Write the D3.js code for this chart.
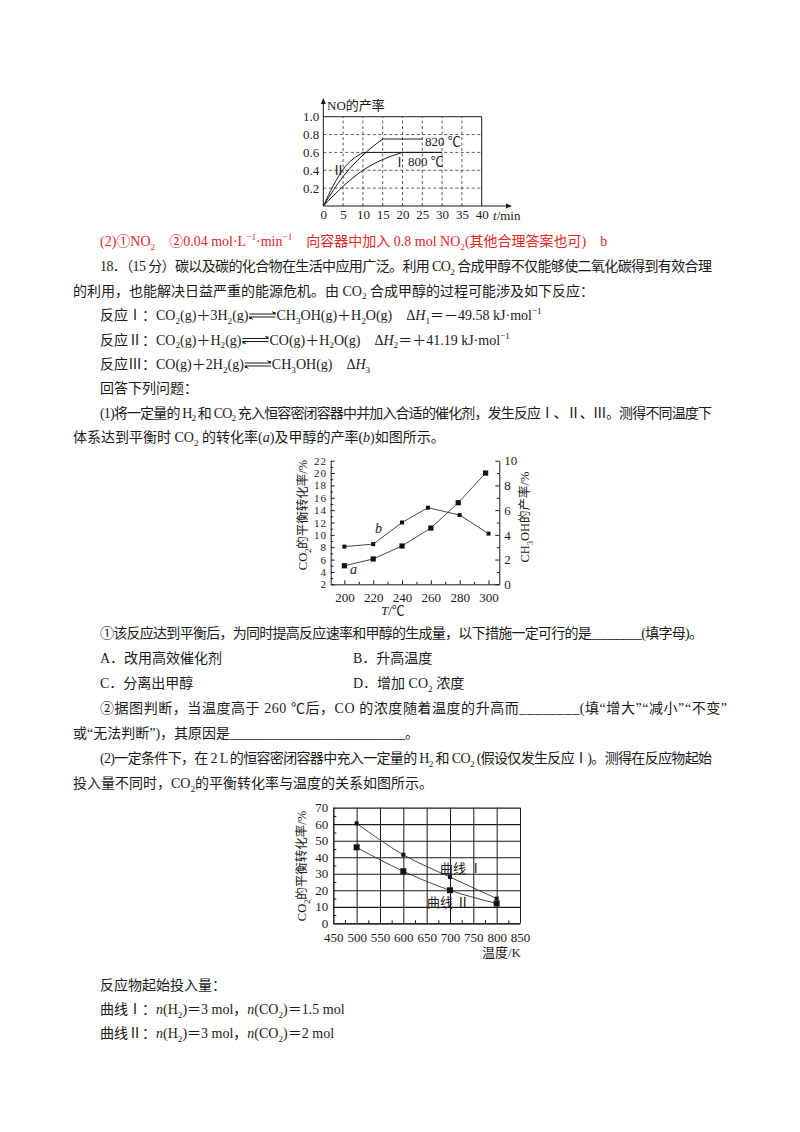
<!DOCTYPE html>
<html lang="zh">
<head>
<meta charset="UTF-8">
<title>CO2 合成甲醇</title>
<script src="https://d3js.org/d3.v7.min.js"></script>
<style>
  body { margin: 0; background: #fff; }
  svg { display: block; }
  text { font-family: "Liberation Serif", "Noto Sans CJK SC", serif; fill: #1a1a1a; }
  .axis path, .axis line { stroke: #1a1a1a; }
  .axis text { font-size: 13px; fill: #1a1a1a; font-family: "Liberation Serif", "Noto Sans CJK SC", serif; }
  .axis.dense text { font-size: 11px; letter-spacing: 0.8px; }
</style>
</head>
<body>
<svg width="800" height="1132"></svg>
<script>
// ---- chart 1: NO yield vs time
const noTicksY = [0.2, 0.4, 0.6, 0.8, 1.0];
const noTicksX = [0, 5, 10, 15, 20, 25, 30, 35, 40];
const t820 = [0, 5, 10, 15, 25];
const y820 = [0, 0.33, 0.57, 0.75, 0.75];
const tII = [0, 5, 10, 30];
const yII = [0, 0.41, 0.6, 0.6];
const tI = [0, 5, 10, 15, 20, 30];
const yI = [0, 0.22, 0.4, 0.52, 0.6, 0.6];

// ---- chart 2: CO2 conversion (a) and methanol yield (b) vs T
const tempTicks = [200, 220, 240, 260, 280, 300];
const tempMinor = [210, 230, 250, 270, 290];
const convTicks = [2, 4, 6, 8, 10, 12, 14, 16, 18, 20, 22];
const convMinor = [3, 5, 7, 9, 11, 13, 15, 17, 19, 21];
const yieldTicks = [0, 2, 4, 6, 8, 10];
const yieldMinor = [1, 3, 5, 7, 9];
const tempsA = [200, 220, 240, 260, 279, 298];
const convA = [5.0, 6.1, 8.2, 11.1, 15.2, 20.0];
const tempsB = [200, 220, 240, 258, 280, 300];
const yieldB = [3.05, 3.25, 5.0, 6.2, 5.6, 4.1];

// ---- chart 3: CO2 equilibrium conversion vs temperature (K)
const kTicks = [450, 500, 550, 600, 650, 700, 750, 800, 850];
const kMinor = [475, 525, 575, 625, 675, 725, 775, 825];
const pctTicks = [0, 10, 20, 30, 40, 50, 60, 70];
const pctMinor = [5, 15, 25, 35, 45, 55, 65];
const kelvin = [500, 600, 700, 800];
const curveI = [60.5, 41.5, 28, 15];
const curveII = [46, 31.5, 20, 12];

const svg = d3.select("svg");

// rich text: _d subscript digit, ^{..} superscript, *..* italic, @ equilibrium arrow
function rich(parent, x, y, str, o = {}) {
  const size = o.size || 14;
  const t = parent.append("text").attr("x", x).attr("y", y).style("font-size", size + "px");
  if (o.fill) t.style("fill", o.fill);
  if (o.anchor) t.attr("text-anchor", o.anchor);
  let cur = 0, italic = false, count = 0, buf = "";
  const slots = [];
  function push(s, shift, small, it) {
    if (!s) return;
    const sp = t.append("tspan").text(s).attr("dy", shift - cur);
    cur = shift;
    if (small) sp.style("font-size", (size * 0.66) + "px");
    if (it) sp.style("font-style", "italic");
    count += s.length;
  }
  let i = 0;
  while (i < str.length) {
    const c = str[i];
    if (c === "_" && /[0-9]/.test(str[i + 1] || "")) {
      push(buf, 0, false, italic); buf = "";
      push(str[i + 1], size * 0.28, true, false); i += 2; continue;
    }
    if (c === "^" && str[i + 1] === "{") {
      const j = str.indexOf("}", i);
      push(buf, 0, false, italic); buf = "";
      push(str.slice(i + 2, j), -size * 0.4, true, false); i = j + 1; continue;
    }
    if (c === "*") { push(buf, 0, false, italic); buf = ""; italic = !italic; i++; continue; }
    if (c === "@") {
      push(buf, 0, false, italic); buf = "";
      slots.push(count); push("\u2003\u2003", 0, false, false); i++; continue;
    }
    buf += c; i++;
  }
  push(buf, 0, false, italic);
  if (o.width) t.attr("textLength", o.width).attr("lengthAdjust", "spacing");
  slots.forEach(s => {
    const n = t.node();
    const a = n.getStartPositionOfChar(s).x + 1;
    const b = n.getEndPositionOfChar(s + 1).x - 1;
    const col = o.fill || "#1a1a1a";
    const ty = y - 6, by = y - 3;
    parent.append("path")
      .attr("d", `M${a},${ty}H${b}L${b - 3.5},${ty - 2.5} M${a},${by}H${b} M${a},${by}L${a + 3.5},${by + 2.5}`)
      .attr("fill", "none").attr("stroke", col).attr("stroke-width", 1);
    parent.append("rect").attr("x", b - 2).attr("y", ty - 2).attr("width", 2).attr("height", 2).attr("fill", col);
    parent.append("rect").attr("x", a).attr("y", by).attr("width", 2).attr("height", 2).attr("fill", col);
  });
  return t;
}

// minor ticks only: drop the empty labels d3 leaves behind
const minor = g => { g.select(".domain").remove(); g.selectAll("text").remove(); };

// ---------------- text
const red = "#e3261f";
const text = svg.append("g");
const para = [
  [100, 246, "(2)①NO_2　②0.04 mol·L^{−1}·min^{−1}　向容器中加入 0.8 mol NO_2(其他合理答案也可)　b", {fill: red}],
  [100, 271, "18．（15 分）碳以及碳的化合物在生活中应用广泛。利用 CO_2 合成甲醇不仅能够使二氧化碳得到有效合理", {width: 612}],
  [73, 295.5, "的利用，也能解决日益严重的能源危机。由 CO_2 合成甲醇的过程可能涉及如下反应："],
  [100, 320, "反应Ⅰ：CO_2(g)＋3H_2(g)@CH_3OH(g)＋H_2O(g)　Δ*H*_1＝－49.58 kJ·mol^{−1}"],
  [100, 344.5, "反应Ⅱ：CO_2(g)＋H_2(g)@CO(g)＋H_2O(g)　Δ*H*_2＝＋41.19 kJ·mol^{−1}"],
  [100, 369, "反应Ⅲ：CO(g)＋2H_2(g)@CH_3OH(g)　Δ*H*_3"],
  [100, 393, "回答下列问题："],
  [100, 417.5, "(1)将一定量的 H_2 和 CO_2 充入恒容密闭容器中并加入合适的催化剂，发生反应Ⅰ、Ⅱ、Ⅲ。测得不同温度下", {width: 612}],
  [73, 442, "体系达到平衡时 CO_2 的转化率(*a*)及甲醇的产率(*b*)如图所示。"],
  [100, 638, "①该反应达到平衡后，为同时提高反应速率和甲醇的生成量，以下措施一定可行的是________(填字母)。", {width: 603}],
  [100, 663, "A．改用高效催化剂"],
  [353, 663, "B．升高温度"],
  [100, 688, "C．分离出甲醇"],
  [353, 688, "D．增加 CO_2 浓度"],
  [100, 713, "②据图判断，当温度高于 260 ℃后，CO 的浓度随着温度的升高而________(填“增大”“减小”“不变”", {width: 627}],
  [73, 738, "或“无法判断”)，其原因是_________________________。"],
  [100, 763, "(2)一定条件下，在 2 L 的恒容密闭容器中充入一定量的 H_2 和 CO_2 (假设仅发生反应Ⅰ)。测得在反应物起始", {width: 612}],
  [73, 788, "投入量不同时，CO_2的平衡转化率与温度的关系如图所示。"],
  [100, 990, "反应物起始投入量："],
  [100, 1014, "曲线Ⅰ：*n*(H_2)＝3 mol，*n*(CO_2)＝1.5 mol"],
  [100, 1038, "曲线Ⅱ：*n*(H_2)＝3 mol，*n*(CO_2)＝2 mol"]
];
para.forEach(p => rich(text, p[0], p[1], p[2], p[3] || {}));

// ---------------- chart 1
const x1 = d3.scaleLinear().domain([0, 40]).range([323.3, 481.7]);
const y1 = d3.scaleLinear().domain([0, 1]).range([206, 116.7]);
const c1 = svg.append("g");
c1.selectAll("line.hg").data(noTicksY.filter(v => v < 1)).join("line").attr("class", "hg")
  .attr("x1", x1(0)).attr("x2", x1(40)).attr("y1", d => y1(d)).attr("y2", d => y1(d))
  .attr("stroke", "#333").attr("stroke-width", 0.8).attr("stroke-dasharray", "3,2.5");
c1.selectAll("line.vg").data(noTicksX.filter(v => v > 0 && v < 40)).join("line").attr("class", "vg")
  .attr("x1", d => x1(d)).attr("x2", d => x1(d)).attr("y1", y1(0)).attr("y2", y1(1))
  .attr("stroke", "#333").attr("stroke-width", 0.8).attr("stroke-dasharray", "3,2.5");
c1.append("path").attr("d", `M${x1(0)},${y1(1)}H${x1(40)}V${y1(0)}`)
  .attr("fill", "none").attr("stroke", "#1a1a1a").attr("stroke-width", 1);
c1.append("g").attr("class", "axis").attr("transform", `translate(${x1(0)},0)`)
  .call(d3.axisLeft(y1).tickValues(noTicksY).tickSize(0).tickPadding(4).tickFormat(d3.format(".1f")))
  .call(g => g.select(".domain").remove());
c1.append("g").attr("class", "axis").attr("transform", `translate(0,${y1(0)})`)
  .call(d3.axisBottom(x1).tickValues(noTicksX).tickSize(0).tickPadding(4))
  .call(g => g.select(".domain").remove());
c1.append("path").attr("d", `M${x1(0)},${y1(0)}V101 M${x1(0)},${y1(0)}H509`)
  .attr("stroke", "#1a1a1a").attr("stroke-width", 1).attr("fill", "none");
c1.append("path").attr("d", `M${x1(0) - 2.5},104L${x1(0)},98L${x1(0) + 2.5},104Z M506,${y1(0) - 2.5}L512,${y1(0)}L506,${y1(0) + 2.5}Z`)
  .attr("fill", "#1a1a1a");

function plateau(ts, vs) {
  const pts = ts.map((t, i) => [t, vs[i]]);
  const k = vs.indexOf(d3.max(vs));
  const ln = d3.line().x(d => x1(d[0])).y(d => y1(d[1]));
  return ln.curve(d3.curveMonotoneX)(pts.slice(0, k + 1)) + d3.line().x(d => x1(d[0])).y(d => y1(d[1]))(pts.slice(k));
}
[[t820, y820], [tII, yII], [tI, yI]].forEach(([ts, vs]) => {
  c1.append("path").attr("d", plateau(ts, vs))
    .attr("fill", "none").attr("stroke", "#1a1a1a").attr("stroke-width", 1);
});
rich(c1, 327, 110, "NO的产率", {size: 13});
rich(c1, 493, 219.5, "*t*/min", {size: 13});
rich(c1, 425, 146, "820 ℃", {size: 13});
rich(c1, 408, 166, "800 ℃", {size: 13});
rich(c1, 332, 175, "Ⅱ", {size: 13});
rich(c1, 393, 167, "Ⅰ", {size: 13});

// ---------------- chart 2
const x2 = d3.scaleLinear().domain([190.5, 307.5]).range([330.7, 499.3]);
const yL = d3.scaleLinear().domain([2, 22]).range([584.3, 460.7]);
const yR = d3.scaleLinear().domain([0, 10]).range([584.3, 460.7]);
const c2 = svg.append("g");
c2.append("g").attr("class", "axis").attr("transform", `translate(0,${yL(2)})`)
  .call(d3.axisBottom(x2).tickValues(tempTicks).tickSize(-4).tickSizeOuter(0).tickPadding(8));
c2.append("g").attr("class", "axis").attr("transform", `translate(0,${yL(2)})`)
  .call(d3.axisBottom(x2).tickValues(tempMinor).tickSize(-2.5)).call(minor);
c2.append("g").attr("class", "axis dense").attr("transform", `translate(${x2.range()[0]},0)`)
  .call(d3.axisLeft(yL).tickValues(convTicks).tickSize(-4).tickSizeOuter(0).tickPadding(4));
c2.append("g").attr("class", "axis").attr("transform", `translate(${x2.range()[0]},0)`)
  .call(d3.axisLeft(yL).tickValues(convMinor).tickSize(-2.5)).call(minor);
c2.append("g").attr("class", "axis").attr("transform", `translate(${x2.range()[1]},0)`)
  .call(d3.axisRight(yR).tickValues(yieldTicks).tickSize(-4).tickSizeOuter(0).tickPadding(5));
c2.append("g").attr("class", "axis").attr("transform", `translate(${x2.range()[1]},0)`)
  .call(d3.axisRight(yR).tickValues(yieldMinor).tickSize(-2.5)).call(minor);

const ptsA = tempsA.map((t, i) => [x2(t), yL(convA[i])]);
const ptsB = tempsB.map((t, i) => [x2(t), yR(yieldB[i])]);
c2.append("path").attr("d", d3.line()(ptsA)).attr("fill", "none").attr("stroke", "#333").attr("stroke-width", 0.9);
c2.append("path").attr("d", d3.line()(ptsB)).attr("fill", "none").attr("stroke", "#333").attr("stroke-width", 0.9);
c2.selectAll("rect.ma").data(ptsA).join("rect").attr("class", "ma")
  .attr("x", d => d[0] - 2.6).attr("y", d => d[1] - 2.6).attr("width", 5.2).attr("height", 5.2).attr("fill", "#111");
c2.selectAll("rect.mb").data(ptsB).join("rect").attr("class", "mb")
  .attr("x", d => d[0] - 2).attr("y", d => d[1] - 2).attr("width", 4).attr("height", 4).attr("fill", "#111");
rich(c2, 350, 574, "*a*", {size: 14});
rich(c2, 375, 533, "*b*", {size: 14});
rich(c2, 381, 615, "*T*/℃", {size: 13});
rich(c2.append("g").attr("transform", "translate(307,515) rotate(-90)"), 0, 0, "CO_2的平衡转化率/%", {size: 12.5, anchor: "middle"});
rich(c2.append("g").attr("transform", "translate(529,517) rotate(-90)"), 0, 0, "CH_3OH的产率/%", {size: 12.5, anchor: "middle"});

// ---------------- chart 3
const x3 = d3.scaleLinear().domain([450, 850]).range([333.3, 520]);
const y3 = d3.scaleLinear().domain([0, 70]).range([923.3, 807.7]);
const c3 = svg.append("g");
c3.append("g").attr("class", "axis").attr("transform", `translate(0,${y3(0)})`)
  .call(d3.axisBottom(x3).tickValues(kTicks).tickSize(-(y3(0) - y3(70))).tickSizeOuter(0).tickPadding(9))
  .call(g => g.selectAll(".tick line").attr("stroke", "#555"));
c3.append("g").attr("class", "axis").attr("transform", `translate(${x3(450)},0)`)
  .call(d3.axisLeft(y3).tickValues(pctTicks).tickSize(-(x3(850) - x3(450))).tickSizeOuter(0).tickPadding(5))
  .call(g => g.selectAll(".tick line").attr("stroke", "#333").attr("stroke-width", 1.2));
c3.append("g").attr("class", "axis").attr("transform", `translate(0,${y3(0)})`)
  .call(d3.axisBottom(x3).tickValues(kMinor).tickSize(-3)).call(minor);
c3.append("g").attr("class", "axis").attr("transform", `translate(${x3(450)},0)`)
  .call(d3.axisLeft(y3).tickValues(pctMinor).tickSize(-3)).call(minor);

const line3 = d3.line().x(d => x3(d[0])).y(d => y3(d[1])).curve(d3.curveMonotoneX);
const p3I = kelvin.map((k, i) => [k, curveI[i]]);
const p3II = kelvin.map((k, i) => [k, curveII[i]]);
c3.append("path").attr("d", line3(p3I)).attr("fill", "none").attr("stroke", "#333").attr("stroke-width", 0.9);
c3.append("path").attr("d", line3(p3II)).attr("fill", "none").attr("stroke", "#333").attr("stroke-width", 0.9);
c3.selectAll("rect.m1").data(p3I).join("rect").attr("class", "m1")
  .attr("x", d => x3(d[0]) - 2).attr("y", d => y3(d[1]) - 2).attr("width", 4).attr("height", 4).attr("fill", "#111");
c3.selectAll("rect.m2").data(p3II).join("rect").attr("class", "m2")
  .attr("x", d => x3(d[0]) - 3).attr("y", d => y3(d[1]) - 3).attr("width", 6).attr("height", 6).attr("fill", "#111");
rich(c3, 440, 873, "曲线 Ⅰ", {size: 13});
rich(c3, 427, 907, "曲线 Ⅱ", {size: 13});
rich(c3, 482, 957, "温度/K", {size: 13});
rich(c3.append("g").attr("transform", "translate(306,866) rotate(-90)"), 0, 0, "CO_2的平衡转化率/%", {size: 12.5, anchor: "middle"});
</script>
</body>
</html>
